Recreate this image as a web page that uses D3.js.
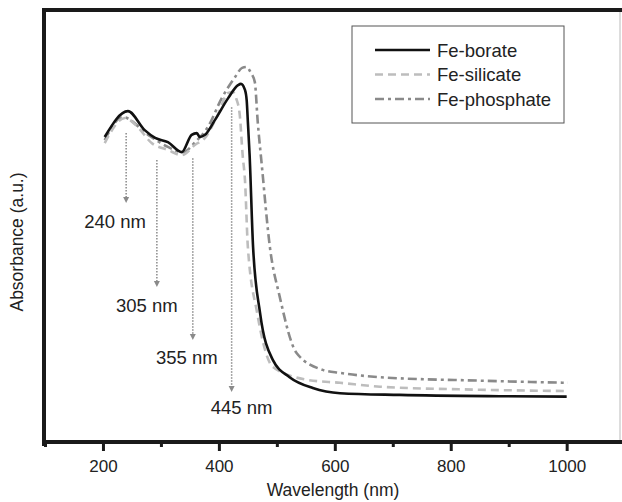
<!DOCTYPE html>
<html>
<head>
<meta charset="utf-8">
<script src="https://cdn.jsdelivr.net/npm/d3@7/dist/d3.min.js"></script>
<style>
  html, body { margin: 0; padding: 0; background: #fff; }
  svg { display: block; font-family: "Liberation Sans", Arial, Helvetica, sans-serif; }
</style>
</head>
<body>
<svg id="chart" width="622" height="502"></svg>
<script>
// ---- data (wavelength nm, absorbance a.u.) ----
const boratePts = [
  [203,0.706],[243,0.766],[272,0.722],[290,0.704],[312,0.694],[336,0.671],[353,0.711],[362,0.715],
  [367,0.706],[376,0.711],[393,0.745],[416,0.796],[433,0.826],[438,0.829],[445,0.815],[448,0.790],
  [450,0.741],[453,0.664],[459,0.451],[471,0.299],[493,0.190],[522,0.150],[562,0.125],[609,0.113],
  [712,0.109],[884,0.106],[1000,0.105]
];
const silicatePts = [
  [203,0.692],[238,0.750],[260,0.729],[284,0.692],[312,0.676],[336,0.664],[359,0.688],[376,0.704],
  [398,0.757],[416,0.808],[424,0.810],[430,0.795],[436,0.757],[441,0.664],[445,0.606],[450,0.451],
  [466,0.299],[493,0.174],[552,0.144],[609,0.137],[678,0.128],[850,0.121],[1002,0.118]
];
const phosphatePts = [
  [203,0.699],[234,0.752],[278,0.711],[312,0.683],[338,0.671],[359,0.694],[381,0.729],[405,0.796],
  [428,0.845],[440,0.866],[448,0.868],[455,0.855],[462,0.833],[467,0.741],[474,0.641],[488,0.451],
  [505,0.336],[534,0.206],[579,0.167],[609,0.160],[678,0.150],[850,0.142],[1002,0.137]
];
const seriesNames = ["Fe-borate", "Fe-silicate", "Fe-phosphate"];
const xTicksMajor = [200, 400, 600, 800, 1000];
const xTicksMinor = [100, 300, 500, 700, 900];
const annotLabels = ["240 nm", "305 nm", "355 nm", "445 nm"];
const annotX = [240, 293, 355, 422];
const annotYTop = [0.715, 0.653, 0.657, 0.775];
const annotYEnd = [0.553, 0.359, 0.236, 0.116];

// ---- layout ----
const svg = d3.select("#chart");
const x = d3.scaleLinear().domain([100, 1092]).range([45, 620]);
const y = d3.scaleLinear().domain([0, 1]).range([442, 10]);

const styles = [
  { color: "#111", dash: null },
  { color: "#bdbdbd", dash: "8,5" },
  { color: "#8a8a8a", dash: "9,4,3,4" }
];

// annotations (vertical dotted arrows)
const labelDx = [-11, -10, -6, 10];
const labelDy = [25, 25, 24, 22];
annotX.forEach((v, i) => {
  svg.append("line")
    .attr("x1", x(v)).attr("x2", x(v))
    .attr("y1", y(annotYTop[i])).attr("y2", y(annotYEnd[i]) - 5)
    .attr("stroke", "#8a8a8a").attr("stroke-width", 1.5)
    .attr("stroke-dasharray", "1.5,1.5");
  svg.append("path")
    .attr("d", `M${x(v)-3},${y(annotYEnd[i])-6} L${x(v)+3},${y(annotYEnd[i])-6} L${x(v)},${y(annotYEnd[i])} Z`)
    .attr("fill", "#8a8a8a");
  svg.append("text")
    .attr("x", x(v) + labelDx[i]).attr("y", y(annotYEnd[i]) + labelDy[i])
    .attr("text-anchor", "middle").attr("font-size", 18.5).attr("fill", "#222")
    .text(annotLabels[i]);
});

// curves
const line = d3.line().x(d => x(d[0])).y(d => y(d[1])).curve(d3.curveMonotoneX);
const allSeries = [boratePts, silicatePts, phosphatePts];
[2, 1, 0].forEach(i => {
  svg.append("path")
    .attr("d", line(allSeries[i]))
    .attr("fill", "none")
    .attr("stroke", styles[i].color)
    .attr("stroke-width", 2.6)
    .attr("stroke-linejoin", "round")
    .attr("stroke-dasharray", styles[i].dash);
});

// frame
svg.append("line").attr("x1", 620).attr("x2", 620).attr("y1", 10).attr("y2", 442)
  .attr("stroke", "#bbb").attr("stroke-width", 1);
svg.append("line").attr("x1", 42).attr("x2", 622).attr("y1", 10).attr("y2", 10)
  .attr("stroke", "#1a1a1a").attr("stroke-width", 4);
svg.append("line").attr("x1", 44).attr("x2", 44).attr("y1", 8).attr("y2", 446)
  .attr("stroke", "#1a1a1a").attr("stroke-width", 4);

// bottom axis
const axisG = svg.append("g").attr("transform", "translate(0,442)");
const xAxis = d3.axisBottom(x).tickValues(xTicksMajor).tickSize(9).tickPadding(9).tickFormat(d3.format("d"));
axisG.call(xAxis);
axisG.select(".domain").remove();
axisG.selectAll(".tick line").attr("stroke", "#1a1a1a").attr("stroke-width", 3);
axisG.selectAll(".tick text").attr("font-size", 17).attr("fill", "#222")
  .attr("font-family", "'Liberation Sans', Arial, sans-serif");
const minorG = svg.append("g").attr("transform", "translate(0,442)");
minorG.call(d3.axisBottom(x).tickValues(xTicksMinor).tickSize(5).tickFormat(""));
minorG.select(".domain").remove();
minorG.selectAll(".tick line").attr("stroke", "#1a1a1a").attr("stroke-width", 3);
svg.append("line").attr("x1", 42).attr("x2", 622).attr("y1", 442).attr("y2", 442)
  .attr("stroke", "#1a1a1a").attr("stroke-width", 4);

// axis titles
svg.append("text").attr("x", 333).attr("y", 496).attr("text-anchor", "middle")
  .attr("font-size", 17.5).attr("fill", "#222").text("Wavelength (nm)");
svg.append("text").attr("transform", "translate(23,242) rotate(-90)")
  .attr("text-anchor", "middle").attr("font-size", 17.5).attr("fill", "#222")
  .text("Absorbance (a.u.)");

// legend
const lg = svg.append("g");
lg.append("rect").attr("x", 352).attr("y", 26).attr("width", 212).attr("height", 97)
  .attr("fill", "#fff").attr("stroke", "#555").attr("stroke-width", 1);
seriesNames.forEach((n, i) => {
  const yy = 50 + i * 24.5;
  lg.append("line").attr("x1", 375).attr("x2", 430).attr("y1", yy).attr("y2", yy)
    .attr("stroke", styles[i].color).attr("stroke-width", 2.6)
    .attr("stroke-dasharray", styles[i].dash);
  lg.append("text").attr("x", 437).attr("y", yy + 6.5).attr("font-size", 18.5)
    .attr("fill", "#222").text(n);
});
</script>
</body>
</html>
